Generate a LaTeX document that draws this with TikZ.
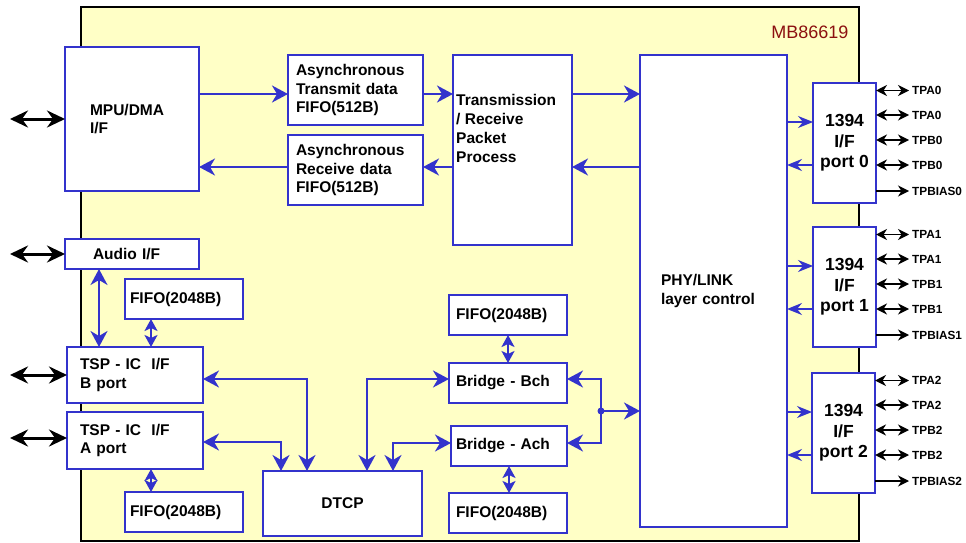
\documentclass[tikz,border=0pt]{standalone}
\usepackage{fontspec}
\setmainfont{Liberation Sans}
\usepackage{xcolor}
\usepackage{tikz}
\usetikzlibrary{arrows.meta, positioning, calc}
\definecolor{chipyellow}{RGB}{255,255,198}
\definecolor{linkblue}{RGB}{51,51,204}
\definecolor{chipred}{RGB}{140,16,16}
\tikzstyle{block} = [rectangle, draw=linkblue, fill=white, line width=2pt, anchor=north west, outer sep=0pt, inner ysep=0pt, align=left, font=\fontsize{15.5}{18.5}\selectfont\bfseries]
\tikzstyle{port} = [block, align=center, minimum width=63pt, minimum height=120pt, font=\fontsize{17.5}{20.5}\selectfont\bfseries]
\tikzstyle{arrow} = [draw=linkblue, line width=2pt, >={Stealth[length=16pt,width=17pt,inset=5pt]}, ->]
\tikzstyle{dblarrow} = [arrow, <->]
\tikzstyle{smalldbl} = [draw=linkblue, line width=2pt, >={Stealth[length=12pt,width=13pt,inset=3pt]}, <->]
\tikzstyle{portarrow} = [draw=linkblue, line width=1.6pt, >={Stealth[length=15pt,width=12pt,inset=5pt]}, ->]
\tikzstyle{ext} = [black, line width=3pt, >={Stealth[length=18pt,width=17pt,inset=6pt]}, <->]
\tikzstyle{pinarrow} = [black, line width=1.6pt, >={Stealth[length=11pt,width=11pt,inset=3.5pt]}, <->]
\tikzstyle{pinlabel} = [anchor=west, inner xsep=3pt, inner ysep=1pt, font=\fontsize{11.8}{13}\selectfont\bfseries]

\begin{document}
\begin{tikzpicture}[x=1pt, y=-1pt]
\useasboundingbox (0,0) rectangle (966,543);
\node[draw=black, fill=chipyellow, line width=1.5pt, anchor=north west, outer sep=0pt, minimum width=778pt, minimum height=534pt] (chip) at (81,7) {};
\node[anchor=east, text=chipred, font=\fontsize{18}{20}\selectfont] (chipname) at (852,32) {MB86619};

% host side
\node[block, text width=84pt, inner xsep=25pt, minimum height=144pt] (mpu) at (65,47) {MPU/DMA\\I/F};
\node[block, text width=78pt, inner xsep=28pt, minimum height=30pt] (audio) at (65,239) {Audio I/F};
\node[block, text width=108pt, inner xsep=5pt, minimum height=40pt] (fifob) at (125,279) {FIFO(2048B)};
\node[block, text width=110pt, inner xsep=13pt, minimum height=56pt] (tspb) at (67,347) {TSP - IC~~I/F\\B port};
\node[block, text width=110pt, inner xsep=13pt, minimum height=57pt] (tspa) at (67,412) {TSP - IC~~I/F\\A port};
\node[block, text width=108pt, inner xsep=5pt, minimum height=40pt] (fifoa) at (125,492) {FIFO(2048B)};
\node[block, align=center, text width=141pt, inner xsep=9pt, minimum height=65pt] (dtcp) at (263,471) {DTCP};

% asynchronous path
\node[block, text width=119pt, inner xsep=8pt, minimum height=70pt] (txfifo) at (288,55) {Asynchronous\\Transmit data\\FIFO(512B)};
\node[block, text width=119pt, inner xsep=8pt, minimum height=70pt] (rxfifo) at (288,135) {Asynchronous\\Receive data\\FIFO(512B)};
\node[block, minimum width=119pt, minimum height=190pt] (trans) at (453,55) {};
\node[anchor=west, align=left, inner sep=0pt, font=\fontsize{15.5}{19}\selectfont\bfseries] (transtext) at (456,128.5) {Transmission\\/ Receive\\Packet\\Process};

% bridges
\node[block, text width=104pt, inner xsep=7pt, minimum height=40pt] (fifobb) at (449,295) {FIFO(2048B)};
\node[block, text width=104pt, inner xsep=7pt, minimum height=40pt] (bridgeb) at (449,363) {Bridge - Bch};
\node[block, text width=106pt, inner xsep=5pt, minimum height=40pt] (bridgea) at (451,426) {Bridge - Ach};
\node[block, text width=104pt, inner xsep=7pt, minimum height=40pt] (fifoba) at (449,493) {FIFO(2048B)};

\node[block, text width=105pt, inner xsep=21pt, minimum height=472pt] (phy) at (640,55) {PHY/LINK\\layer control};

% 1394 ports
\node[port] (port0) at (813,83) {1394\\I/F\\port 0};
\node[port] (port1) at (813,227) {1394\\I/F\\port 1};
\node[port] (port2) at (812,373) {1394\\I/F\\port 2};

% outside connections
\coordinate (mpuext) at (10,119);
\coordinate (audioext) at (10,254);
\coordinate (tspbext) at (10,375);
\coordinate (tspaext) at (10,438);
\draw[ext] (mpuext) -- (mpu.west |- mpuext);
\draw[ext] (audioext) -- (audio.west |- audioext);
\draw[ext] (tspbext) -- (tspb.west |- tspbext);
\draw[ext] (tspaext) -- (tspa.west |- tspaext);

% asynchronous arrows
\coordinate (toprow) at (0,94);
\coordinate (botrow) at (0,167);
\draw[arrow] (mpu.east |- toprow) -- (txfifo.west |- toprow);
\draw[arrow] (txfifo.east |- toprow) -- (trans.west |- toprow);
\draw[arrow] (trans.east |- toprow) -- (phy.west |- toprow);
\draw[arrow] (phy.west |- botrow) -- (trans.east |- botrow);
\draw[arrow] (trans.west |- botrow) -- (rxfifo.east |- botrow);
\draw[arrow] (rxfifo.west |- botrow) -- (mpu.east |- botrow);

% isochronous arrows
\coordinate (audiox) at ([xshift=34pt]audio.south west);
\coordinate (fifobx) at ([xshift=26pt]fifob.south west);
\coordinate (fifoax) at ([xshift=26pt]fifoa.north west);
\draw[dblarrow] (audiox) -- (audiox |- tspb.north);
\draw[smalldbl] (fifobx) -- (fifobx |- tspb.north);
\draw[smalldbl] (fifoax |- tspa.south) -- (fifoax);
\draw[dblarrow] ([yshift=-4pt]tspb.east) -| ([xshift=44pt]dtcp.north west);
\draw[dblarrow] ([yshift=-1.5pt]tspa.east) -| ([xshift=18pt]dtcp.north west);
\draw[dblarrow] ([xshift=104pt]dtcp.north west) |- ([yshift=4pt]bridgeb.west);
\draw[dblarrow] ([xshift=130pt]dtcp.north west) |- ([yshift=3pt]bridgea.west);
\draw[smalldbl] (fifobb.south) -- (bridgeb.north);
\draw[smalldbl] (bridgea.south) -- (bridgea.south |- fifoba.north);

\coordinate (jn) at (601,411);
\draw[arrow] (jn) |- ([yshift=4pt]bridgeb.east);
\draw[arrow] (jn) |- ([yshift=3pt]bridgea.east);
\draw[arrow] (jn) -- (phy.west |- jn);
\fill[linkblue] (jn) circle (3.5pt);

% port pins
\foreach \p/\t in {0/83, 1/227, 2/373} {
  \coordinate (inp\p) at (0,\t+39);
  \coordinate (outp\p) at (0,\t+82);
  \draw[portarrow] (phy.east |- inp\p) -- (port\p.west |- inp\p);
  \draw[portarrow] (port\p.west |- outp\p) -- (phy.east |- outp\p);
  \node[pinlabel] (tpaa\p) at (909,\t+7.5) {TPA\p};
  \node[pinlabel] (tpab\p) at (909,\t+32) {TPA\p};
  \node[pinlabel] (tpba\p) at (909,\t+57) {TPB\p};
  \node[pinlabel] (tpbb\p) at (909,\t+82) {TPB\p};
  \node[pinlabel] (tpbias\p) at (909,\t+108) {TPBIAS\p};
  \draw[pinarrow] (port\p.east |- tpaa\p) -- (tpaa\p);
  \draw[pinarrow] (port\p.east |- tpab\p) -- (tpab\p);
  \draw[pinarrow] (port\p.east |- tpba\p) -- (tpba\p);
  \draw[pinarrow] (port\p.east |- tpbb\p) -- (tpbb\p);
  \draw[pinarrow, -{Stealth[length=11pt,width=11pt,inset=3.5pt]}] (port\p.east |- tpbias\p) -- (tpbias\p);
}
\end{tikzpicture}
\end{document}
